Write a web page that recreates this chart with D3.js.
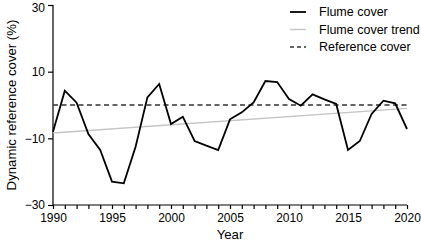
<!DOCTYPE html>
<html>
<head>
<meta charset="utf-8">
<script src="https://cdn.jsdelivr.net/npm/d3@7"></script>
<style>
  body { margin: 0; background: #fff; }
  svg { font-family: "Liberation Sans", Arial, sans-serif; }
</style>
</head>
<body>
<script>
// values
var years = d3.range(1990, 2021)
var flume = [-8, 4.3, 0.7, -8.7, -13.5, -23, -23.5, -12.5, 2.3, 6.3,
  -5.7, -3.5, -10.8, -12.2, -13.5, -4.3, -2.2, 0.8, 7.2, 6.9,
  1.8, -0.2, 3.2, 1.7, 0.3, -13.5, -10.8, -2.7, 1.3, 0.5, -7.2]
var trendYears = [1990, 2020]
var trendVals = [-8.4, -1.0]
var referenceCover = 0
var yTicks = [30, 10, -10, -30]
var xMajor = [1990, 1995, 2000, 2005, 2010, 2015, 2020]
var legendNames = ['Flume cover', 'Flume cover trend', 'Reference cover']

var width = 421, height = 244
var margin = {top: 5, right: 14, bottom: 39, left: 53}

var svg = d3.select('body').append('svg')
  .attr('width', width)
  .attr('height', height)

var x = d3.scaleLinear().domain([1990, 2020]).range([margin.left, width - margin.right])
var y = d3.scaleLinear().domain([-30, 30]).range([height - margin.bottom, margin.top])

// x axis: minor ticks every year, labels every 5
svg.append('g')
  .attr('transform', 'translate(0,' + y(-30) + ')')
  .call(d3.axisBottom(x).tickValues(years).tickSize(4)
    .tickFormat(d => xMajor.includes(d) ? d : ''))
  .call(g => g.selectAll('text').attr('font-size', 12).attr('fill', '#000').attr('dy', '0.8em'))
  .call(g => g.select('.domain').attr('d', 'M' + x(1990) + ',0H' + x(2020)))

svg.append('g')
  .attr('transform', 'translate(' + x(1990) + ',0)')
  .call(d3.axisLeft(y).tickValues(yTicks).tickSize(5).tickFormat(d => d < 0 ? '\u2212' + (-d) : d))
  .call(g => g.selectAll('text').attr('font-size', 12).attr('fill', '#000'))
  .call(g => g.select('.domain').attr('d', 'M0,' + y(30) + 'V' + y(-30)))
  // keep the top label inside the frame
  .call(g => g.selectAll('.tick').filter(d => d === 30).select('text').attr('dy', '0.5em'))

svg.selectAll('.domain, .tick line').attr('stroke', '#000').attr('stroke-width', 1.2)

// reference cover
svg.append('line')
  .attr('x1', x(1990)).attr('x2', x(2020))
  .attr('y1', y(referenceCover)).attr('y2', y(referenceCover))
  .attr('stroke', '#333').attr('stroke-width', 1.6)
  .attr('stroke-dasharray', '5,3.5')

// trend
svg.append('path')
  .datum(trendYears.map((d, i) => [d, trendVals[i]]))
  .attr('d', d3.line().x(d => x(d[0])).y(d => y(d[1])))
  .attr('fill', 'none').attr('stroke', '#c4c4c4').attr('stroke-width', 1.4)

// flume cover
svg.append('path')
  .datum(years.map((d, i) => [d, flume[i]]))
  .attr('d', d3.line().x(d => x(d[0])).y(d => y(d[1])))
  .attr('fill', 'none').attr('stroke', '#000').attr('stroke-width', 1.8)
  .attr('stroke-linejoin', 'miter')

// titles
svg.append('text')
  .attr('x', (x(1990) + x(2020)) / 2).attr('y', 239)
  .attr('text-anchor', 'middle').attr('font-size', 13.2)
  .text('Year')

svg.append('text')
  .attr('transform', 'translate(16,' + y(0) + ') rotate(-90)')
  .attr('text-anchor', 'middle').attr('font-size', 13.2)
  .text('Dynamic reference cover (%)')

// legend
var legStyles = [
  {stroke: '#000', w: 1.8, dash: null},
  {stroke: '#c4c4c4', w: 1.4, dash: null},
  {stroke: '#333', w: 1.6, dash: '4,3'}
]
var leg = svg.append('g')
legendNames.forEach(function (name, i) {
  var ly = 12 + i * 17.5
  leg.append('line')
    .attr('x1', 290).attr('x2', 306).attr('y1', ly).attr('y2', ly)
    .attr('stroke', legStyles[i].stroke).attr('stroke-width', legStyles[i].w)
    .attr('stroke-dasharray', legStyles[i].dash)
  leg.append('text')
    .attr('x', 319).attr('y', ly).attr('dy', '0.35em')
    .attr('font-size', 12.5)
    .text(name)
})
</script>
</body>
</html>
